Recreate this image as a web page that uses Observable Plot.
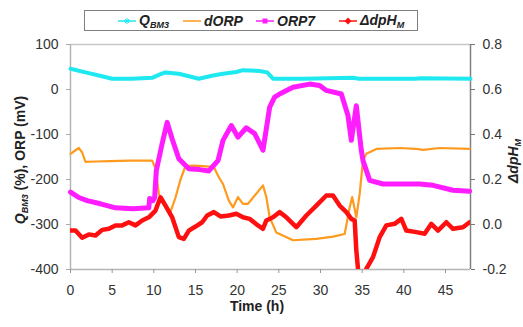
<!DOCTYPE html>
<html>
<head>
<meta charset="utf-8">
<script src="https://cdn.jsdelivr.net/npm/d3@7"></script>
<script src="https://cdn.jsdelivr.net/npm/@observablehq/plot@0.6"></script>
<style>
  body { margin: 0; background: #fff; }
  #wrap { position: relative; width: 523px; height: 327px; font-family: "Liberation Sans", Arial, sans-serif; }
  #legend { position: absolute; left: 84px; top: 10px; width: 332px; height: 19px; border: 1px solid #7f7f7f; background: #fff; }
  .item { position: absolute; top: 0; height: 19px; display: flex; align-items: center; font-weight: bold; font-style: italic; font-size: 14px; color: #222; white-space: nowrap; }
  .item svg { margin-right: 3px; }
  .item sub { font-size: 9px; vertical-align: -3px; }
</style>
</head>
<body>
<div id="wrap"><div id="legend"></div></div>
<script>
// Time axis (h)
const xTicks = [0, 5, 10, 15, 20, 25, 30, 35, 40, 45];
// Left axis: Q_BM3 (%) and ORP (mV)
const yTicks = [-400, -300, -200, -100, 0, 100];
// Right axis: ΔdpH_M
const rightTicks = [-0.2, 0.0, 0.2, 0.4, 0.6, 0.8];

// Q_BM3 (%)
const qTime = [0, 1.8, 3.4, 5.0, 7.4, 9.8, 10.8, 11.4, 13.0, 15.4, 17.1, 18.3, 19.9, 20.7, 22.7, 23.6, 24.3, 28.0, 33.9, 34.6, 41.4, 42.0, 48];
const qValue = [46, 38, 31, 24, 24, 26, 34, 38, 35, 24, 31, 35, 39, 43, 41, 38, 24, 24, 26, 24, 24, 25, 24];

// dORP (mV)
const dTime = [0, 0.6, 1.0, 1.4, 1.8, 3, 4.8, 7, 9.8, 10.2, 10.6, 11.4, 12.0, 12.6, 13.2, 13.8, 14.8, 17.2, 17.8, 18.3, 19.0, 19.5, 20.1, 20.7, 21.3, 23.1, 23.5, 23.9, 24.7, 26.7, 29.5, 31.5, 32.9, 33.5, 33.8, 34.3, 34.7, 35.1, 35.5, 36.7, 39.5, 41.5, 42.3, 44.3, 47.9];
const dValue = [-143, -135, -130, -140, -161, -160, -159, -158, -158, -176, -232, -262, -272, -240, -200, -170, -169, -172, -195, -210, -247, -262, -239, -254, -254, -213, -239, -284, -318, -335, -332, -327, -321, -262, -239, -284, -232, -158, -143, -132, -130, -132, -134, -130, -132];

// ORP7 (mV)
const mTime = [0, 1, 2, 3.6, 5.4, 7.5, 9.4, 9.5, 9.9, 10.1, 10.3, 11.0, 11.6, 12.2, 13.0, 14.2, 15.5, 16.6, 17.7, 18.3, 19.3, 20.1, 21.1, 22.1, 23.1, 23.9, 24.5, 25.1, 26.7, 28.7, 29.9, 30.7, 32.5, 33.3, 33.7, 34.3, 34.9, 35.1, 35.9, 37.5, 39.5, 41.9, 43.5, 45.9, 47.9];
const mValue = [-228, -240, -247, -254, -263, -265, -263, -242, -247, -240, -180, -120, -73, -110, -154, -176, -178, -181, -158, -113, -80, -106, -85, -98, -135, -39, -17, -10, 5, 12, 9, -2, -10, -58, -113, -36, -136, -158, -202, -210, -210, -210, -213, -224, -226];

// ΔdpH_M (pH units, right axis)
const rTime = [0, 0.6, 1.4, 2.2, 3.0, 3.8, 4.6, 5.4, 6.2, 7.0, 7.8, 8.6, 9.4, 10.2, 10.8, 11.4, 12.2, 13.0, 13.6, 14.2, 15.0, 15.8, 16.4, 17.2, 18.0, 19.0, 19.9, 20.7, 21.5, 22.5, 23.1, 23.5, 24.3, 25.1, 25.9, 27.1, 28.3, 29.5, 30.7, 31.5, 32.3, 33.1, 33.7, 34.1, 34.3, 34.5, 34.9, 35.5, 36.3, 37.1, 37.9, 38.9, 39.7, 40.3, 41.5, 42.5, 43.3, 44.1, 45.1, 45.9, 47.1, 47.9];
const rValue = [-0.027, -0.027, -0.059, -0.044, -0.049, -0.024, -0.019, -0.004, -0.004, 0.010, -0.004, 0.018, 0.032, 0.062, 0.121, 0.084, 0.032, -0.056, -0.064, -0.027, -0.009, 0.010, 0.040, 0.055, 0.036, 0.040, 0.048, 0.032, 0.025, -0.004, -0.019, 0.018, 0.032, 0.055, 0.032, -0.012, 0.040, 0.084, 0.129, 0.129, 0.084, 0.055, 0.025, 0.018, -0.116, -0.197, -0.26, -0.197, -0.145, -0.056, -0.004, 0.003, 0.025, -0.027, -0.034, -0.041, 0.003, -0.027, 0.010, -0.019, -0.012, 0.010];

const seriesNames = ["Q_BM3", "dORP", "ORP7", "ΔdpH_M"];
const seriesColors = ["#1ee8f0", "#ff9a1e", "#ff1cff", "#ff1010"];

// ΔdpH_M shares the plot frame: -0.2…0.8 maps onto -400…100 mV
const toLeft = r => 500 * r - 300;

const zip = (t, v) => t.map((x, i) => ({t: x, v: v[i]}));
const qData = zip(qTime, qValue);
const dData = zip(dTime, dValue);
const mData = zip(mTime, mValue);
const rData = zip(rTime, rValue);

const lineOpts = {x: "t", y: "v", strokeLinejoin: "round", strokeLinecap: "round"};

const chart = Plot.plot({
  width: 523,
  height: 327,
  marginTop: 44,
  marginBottom: 58,
  marginLeft: 70,
  marginRight: 53,
  style: {fontFamily: '"Liberation Sans", Arial, sans-serif', fontSize: "14px", color: "#333", background: "transparent", overflow: "visible"},
  x: {domain: [0, 48]},
  y: {domain: [-400, 100]},
  marks: [
    Plot.ruleY([100], {stroke: "#c8c8c8", strokeWidth: 1.5}),
    Plot.ruleX([0], {stroke: "#b4b4b4", strokeWidth: 1.5}),
    Plot.ruleY([-400], {stroke: "#b4b4b4", strokeWidth: 1.5}),
    Plot.ruleX([48], {stroke: "#808080", strokeWidth: 1.5}),
    Plot.axisX({ticks: xTicks, tickSize: 4, tickPadding: 12, stroke: "#999", fill: "#333", label: null, tickFormat: d => String(d)}),
    Plot.axisY({anchor: "left", ticks: yTicks, tickSize: 4, tickPadding: 8, stroke: "#aaa", fill: "#333", label: null, tickFormat: d => String(d)}),
    Plot.axisY({anchor: "right", ticks: rightTicks.map(toLeft), tickSize: 4, tickPadding: 8, stroke: "#777", fill: "#333", label: null,
      tickFormat: (d, i) => rightTicks[i].toFixed(1)}),
    Plot.line(qData, {...lineOpts, stroke: seriesColors[0], strokeWidth: 4}),
    Plot.line(dData, {...lineOpts, stroke: seriesColors[1], strokeWidth: 2.2}),
    Plot.line(mData, {...lineOpts, stroke: seriesColors[2], strokeWidth: 5}),
    Plot.line(rData, {x: "t", y: d => toLeft(d.v), stroke: seriesColors[3], strokeWidth: 4.5, strokeLinejoin: "round", clip: true})
  ]
});

document.getElementById("wrap").prepend(chart);

// Axis titles with subscripts
const svg = d3.select(chart);
const leftTitle = svg.append("text")
  .attr("transform", "translate(25,160) rotate(-90)")
  .attr("text-anchor", "middle")
  .attr("font-weight", "bold")
  .attr("font-size", 14)
  .attr("fill", "#222");
leftTitle.append("tspan").attr("font-style", "italic").text("Q");
leftTitle.append("tspan").attr("font-style", "italic").attr("font-size", 9).attr("dy", 3).text("BM3");
leftTitle.append("tspan").attr("dy", -3).text(" (%), ORP (mV)");

const rightTitle = svg.append("text")
  .attr("transform", "translate(518,161) rotate(-90)")
  .attr("text-anchor", "middle")
  .attr("font-weight", "bold")
  .attr("font-style", "italic")
  .attr("font-size", 14)
  .attr("fill", "#222");
rightTitle.append("tspan").text("ΔdpH");
rightTitle.append("tspan").attr("font-size", 9).attr("dy", 3).text("M");

svg.append("text")
  .attr("x", 257).attr("y", 311)
  .attr("text-anchor", "middle")
  .attr("font-weight", "bold")
  .attr("font-size", 14)
  .attr("fill", "#222")
  .text("Time (h)");

// Legend
const legendLeft = [33, 98, 171, 254];
const markers = ["star", "none", "square", "diamond"];
const legend = d3.select("#legend");
seriesNames.forEach((name, i) => {
  const item = legend.append("div").attr("class", "item").style("left", legendLeft[i] + "px");
  const sw = item.append("svg").attr("width", 18).attr("height", 10);
  sw.append("line").attr("x1", 0).attr("x2", 18).attr("y1", 5).attr("y2", 5)
    .attr("stroke", seriesColors[i]).attr("stroke-width", 1.5);
  if (markers[i] === "square") sw.append("rect").attr("x", 6.5).attr("y", 2.5).attr("width", 5).attr("height", 5).attr("fill", seriesColors[i]);
  if (markers[i] === "diamond") sw.append("path").attr("d", "M9,1.5L12.5,5L9,8.5L5.5,5Z").attr("fill", seriesColors[i]);
  if (markers[i] === "star") sw.append("path").attr("d", "M9,2V8M6,5H12M7,3L11,7M11,3L7,7").attr("stroke", seriesColors[i]).attr("stroke-width", 1);
  const [base, sub] = name.split("_");
  const label = item.append("span");
  label.append("span").text(base);
  if (sub) label.append("sub").text(sub);
});
</script>
</body>
</html>
